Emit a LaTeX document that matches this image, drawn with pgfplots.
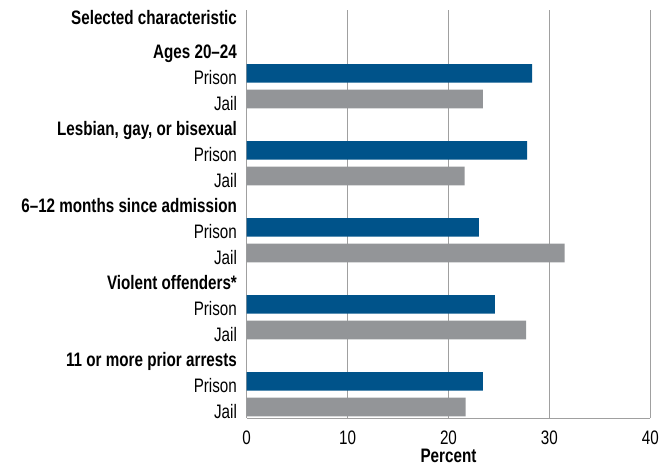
\documentclass[border=0pt]{standalone}
\usepackage{pgfplots}
\pgfplotsset{compat=1.18}
\usepackage{fontspec}
\setmainfont{Liberation Sans}[FakeStretch=0.78]

\definecolor{prisonblue}{RGB}{0,83,138}
\definecolor{jailgray}{RGB}{147,149,152}
\definecolor{gridgray}{RGB}{160,160,160}

% rows from the top: header, Prison, Jail for each characteristic
\pgfplotstableread{
row value
2  28.3
5  27.8
8  23.0
11 24.6
14 23.4
}\prison
\pgfplotstableread{
row value
3  23.4
6  21.6
9  31.5
12 27.7
15 21.7
}\jail

\begin{document}
\begin{tikzpicture}
\begin{axis}[
    scale only axis,
    width=403.6pt, height=408.3pt,
    xmin=0, xmax=40,
    xtick={0,10,20,30,40},
    ymin=-0.47, ymax=15.44,
    y dir=reverse,
    ytick={-0.35,1,2,3,4,5,6,7,8,9,10,11,12,13,14,15},
    yticklabels={\textbf{Selected characteristic},
        \textbf{Ages 20–24},Prison,Jail,
        \textbf{Lesbian, gay, or bisexual},Prison,Jail,
        \textbf{6–12 months since admission},Prison,Jail,
        \textbf{Violent offenders*},Prison,Jail,
        \textbf{11 or more prior arrests},Prison,Jail},
    axis x line*=bottom, axis y line*=left,
    axis line style={draw=gridgray, line width=1pt, -},
    xmajorgrids,
    grid style={draw=gridgray, line width=1pt},
    tick style={draw=none},
    /pgf/number format/assume math mode=true,
    ticklabel style={font=\fontsize{19.5}{22}\selectfont},
    yticklabel style={anchor=base east, yshift=-11pt, xshift=-2pt},
    xticklabel style={anchor=base, yshift=-26pt},
    xlabel={\textbf{Percent}},
    xlabel style={font=\fontsize{19.5}{22}\selectfont, anchor=base, at={(axis description cs:0.5,0)}, yshift=-43.7pt},
    xbar, bar width=18.7pt,
]
\addplot[fill=prisonblue, draw=none, bar shift=0pt] table[x=value, y=row] {\prison};
\addplot[fill=jailgray, draw=none, bar shift=0pt] table[x=value, y=row] {\jail};
\end{axis}
\pgfresetboundingbox
\path ([xshift=-246.7pt, yshift=10pt]current axis.north west) rectangle ([xshift=17.7pt, yshift=-47.7pt]current axis.south east);
\end{tikzpicture}
\end{document}
